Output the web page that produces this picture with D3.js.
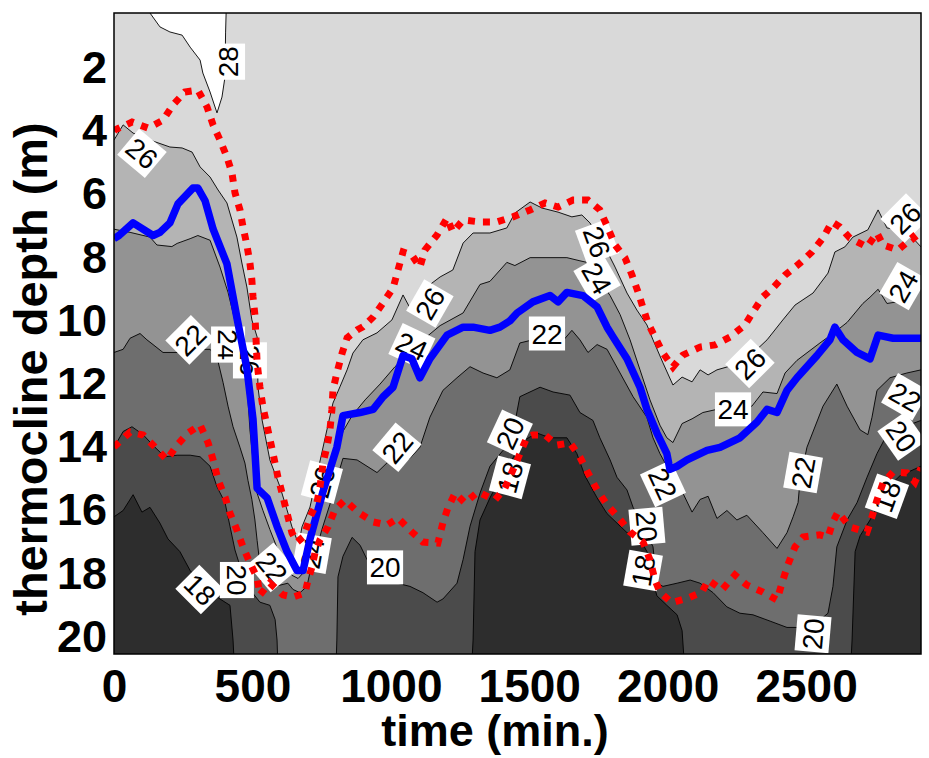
<!DOCTYPE html>
<html>
<head>
<meta charset="utf-8">
<script src="https://cdn.jsdelivr.net/npm/d3@7"></script>
<style>
  body { margin: 0; background: #fff; }
  text { font-family: "Liberation Sans", Arial, sans-serif; }
</style>
</head>
<body>
<svg id="chart" width="929" height="758"></svg>
<script>
// isotherm depths [time (min), depth (m)]
// values > 20.5 or < 0.26 mean the isotherm is outside the plotted depth range
const iso18 = [[0,16.2],[33,16.0],[69,15.5],[101,16.05],[130,15.9],[166,16.4],[195,16.9],[238,17.3],[275,17.9],[329,18.45],[383,18.8],[419,19.0],[430,20.1],[441,22],
  [1286,22],[1297,20.1],[1304,17.3],[1322,16.3],[1358,15.6],[1394,15.0],[1430,14.5],[1477,13.8],[1528,13.55],[1575,13.7],[1636,13.7],[1672,14.2],[1701,14.9],[1745,15.6],[1781,16.1],[1817,16.4],[1853,16.7],[1900,16.9],[1925,17.3],[1943,18.1],[1961,18.7],[1997,19.0],[2034,19.3],[2052,19.8],[2059,20.7],[2070,22],
  [2655,22],[2666,20.1],[2677,17.3],[2695,16.8],[2731,16.3],[2756,15.9],[2792,15.3],[2839,14.9],[2915,14.6]];

const iso20 = [[0,14.0],[33,13.5],[65,13.35],[105,13.6],[148,14.0],[184,14.3],[228,14.25],[275,14.25],[311,14.3],[347,14.6],[372,15.25],[401,15.75],[419,16.5],[437,17.25],[462,17.95],[491,18.5],[527,18.9],[563,19.0],[582,19.45],[589,20.1],[596,22],
  [798,22],[805,20.1],[809,18.1],[827,17.45],[860,16.85],[889,17.1],[914,17.55],[950,18.0],[1022,18.3],[1069,18.4],[1116,18.6],[1167,18.9],[1188,18.8],[1239,18.3],[1261,17.55],[1286,16.5],[1322,15.45],[1358,14.6],[1405,14.1],[1441,13.55],[1466,12.4],[1539,12.1],[1586,12.25],[1647,12.35],[1683,12.9],[1730,13.15],[1755,13.7],[1792,14.4],[1817,14.95],[1853,15.35],[1875,15.9],[1918,16.6],[1947,17.15],[1961,18.3],[1983,18.4],[2034,18.3],[2081,18.2],[2117,18.3],[2164,18.6],[2214,19.05],[2261,19.25],[2308,19.3],[2370,19.5],[2431,19.7],[2478,19.7],[2532,19.6],[2579,19.25],[2597,18.4],[2611,17.15],[2648,16.3],[2684,15.75],[2720,14.95],[2756,14.2],[2792,13.6],[2839,13.4],[2915,13.15]];

const iso22 = [[0,11.0],[33,10.9],[58,10.55],[94,10.4],[119,10.6],[141,10.75],[177,11.0],[228,11.0],[264,11.0],[311,10.9],[347,10.9],[372,11.15],[394,11.95],[412,12.7],[430,13.35],[455,14.0],[473,14.5],[484,15.05],[498,15.65],[509,16.3],[517,16.95],[527,17.7],[545,18.35],[582,18.4],[628,18.3],[647,18.5],[672,18.6],[697,18.4],[708,17.95],[726,17.4],[751,16.6],[780,15.8],[805,15.0],[827,14.35],[878,14.4],[950,14.8],[997,14.4],[1069,14.35],[1105,14.0],[1141,13.05],[1188,12.2],[1239,11.8],[1286,11.45],[1333,11.65],[1383,11.8],[1430,11.55],[1466,10.7],[1513,10.6],[1600,10.85],[1654,10.3],[1683,10.6],[1712,11.0],[1745,10.75],[1781,10.9],[1828,11.65],[1875,12.4],[1925,13.05],[1947,13.7],[1972,14.2],[1997,14.6],[2044,15.25],[2088,16.05],[2117,15.65],[2146,15.55],[2178,16.25],[2214,16.0],[2250,16.3],[2286,16.15],[2344,16.7],[2395,17.2],[2431,16.7],[2453,16.2],[2471,15.75],[2478,15.05],[2503,14.0],[2561,12.7],[2611,12.0],[2648,12.7],[2695,13.45],[2723,13.6],[2738,13.05],[2756,12.2],[2803,11.8],[2864,11.65],[2915,11.55]];

const iso24 = [[0,7.1],[58,7.2],[130,7.35],[155,7.6],[209,7.65],[228,7.55],[275,7.4],[303,7.3],[347,7.45],[383,8.3],[412,9.1],[437,10.0],[455,10.75],[473,11.55],[484,12.5],[491,13.45],[502,14.4],[513,15.35],[538,16.0],[563,16.6],[592,17.25],[618,17.75],[643,18.05],[665,18.15],[686,17.95],[708,17.2],[737,16.15],[769,15.2],[798,14.35],[827,13.5],[860,13.0],[907,12.5],[961,12.0],[1015,11.45],[1069,11.0],[1123,10.55],[1178,10.15],[1261,9.75],[1322,8.85],[1358,8.75],[1419,8.15],[1448,8.25],[1503,8.0],[1575,8.0],[1636,8.0],[1683,8.1],[1708,8.15],[1745,8.6],[1792,9.2],[1828,9.8],[1864,10.6],[1900,11.55],[1936,12.5],[1972,13.3],[1997,13.7],[2019,13.85],[2052,13.25],[2088,13.1],[2127,12.9],[2178,12.8],[2236,12.7],[2304,12.7],[2344,12.25],[2395,12.3],[2424,11.65],[2467,11.25],[2550,10.7],[2597,10.4],[2648,10.05],[2705,9.45],[2731,9.25],[2760,9.0],[2792,9.45],[2828,9.4],[2915,8.8]];

const iso26 = [[0,4.28],[33,3.8],[69,4.06],[130,4.28],[202,4.5],[246,4.53],[282,4.66],[311,5.13],[347,5.45],[376,5.86],[408,6.27],[426,6.81],[444,7.35],[462,8.17],[480,8.93],[498,9.97],[517,10.51],[520,12.09],[535,13.14],[563,14.4],[600,15.26],[625,15.98],[643,16.52],[661,16.93],[668,17.03],[679,16.52],[708,15.89],[737,14.72],[769,13.45],[791,12.6],[816,12.09],[842,11.55],[863,11.02],[899,10.6],[950,10.38],[1004,9.97],[1044,9.18],[1069,9.59],[1116,9.02],[1178,8.61],[1224,8.39],[1261,7.54],[1297,7.22],[1358,7.22],[1419,7.06],[1448,6.59],[1503,6.24],[1546,6.43],[1604,6.56],[1654,6.71],[1690,6.65],[1719,6.9],[1766,7.54],[1810,8.3],[1853,9.12],[1889,9.66],[1925,10.13],[1947,10.6],[1983,11.33],[2019,12.03],[2052,11.78],[2088,11.93],[2117,11.55],[2146,11.71],[2178,11.55],[2214,11.46],[2261,11.3],[2308,11.02],[2359,10.6],[2416,9.97],[2460,9.5],[2525,9.12],[2579,8.49],[2604,7.82],[2640,7.66],[2669,7.35],[2723,7.12],[2760,6.49],[2792,7.06],[2832,7.12],[2875,7.28],[2915,7.66]];

const iso28 = [[0,-0.5],[128,-0.5],[130,0.26],[166,0.7],[202,0.86],[246,0.96],[275,1.34],[311,1.75],[321,2.16],[347,2.76],[372,3.42],[390,2.92],[401,2.28],[403,0.89],[405,0.26],[407,-0.5],[2915,-0.5]];

const isoLevels = [18, 20, 22, 24, 26, 28];
const isotherms = [iso18, iso20, iso22, iso24, iso26, iso28];

// thermocline depth (blue) and its upper / lower bounds (red dotted)
const thermocline = [[0,7.4],[18,7.3],[69,6.9],[141,7.3],[166,7.2],[202,6.9],[231,6.3],[285,5.8],[303,5.8],[329,6.2],[358,7.1],[408,8.2],[444,9.9],[480,11.5],[502,13.1],[517,15.3],[553,15.6],[589,16.5],[625,17.3],[661,17.9],[683,17.9],[708,16.9],[755,15.4],[805,14.0],[827,13.0],[889,12.9],[936,12.8],[972,12.4],[1008,12.1],[1044,11.1],[1076,11.2],[1105,11.8],[1141,11.2],[1203,10.45],[1261,10.2],[1297,10.2],[1358,10.3],[1394,10.2],[1430,10.0],[1456,9.75],[1513,9.4],[1575,9.2],[1604,9.4],[1636,9.1],[1694,9.2],[1745,9.56],[1781,10.2],[1802,10.5],[1853,11.2],[1900,12.1],[1925,12.8],[1961,13.55],[1997,14.2],[2008,14.7],[2034,14.6],[2070,14.4],[2142,14.1],[2189,14.0],[2261,13.7],[2323,13.2],[2359,12.8],[2395,12.9],[2431,12.2],[2467,11.8],[2539,11.1],[2586,10.6],[2604,10.2],[2633,10.6],[2684,11.0],[2731,11.2],[2760,10.45],[2814,10.55],[2915,10.55]];

const upperBound = [[0,4.0],[4,3.96],[65,3.71],[123,3.9],[177,3.65],[213,3.17],[256,2.76],[303,2.7],[336,3.23],[358,3.8],[383,4.28],[408,4.82],[426,5.32],[437,5.95],[455,6.49],[466,7.03],[480,7.6],[491,8.17],[498,8.71],[502,9.24],[509,9.81],[517,11.33],[527,12.09],[538,12.72],[556,13.45],[574,14.18],[592,14.94],[607,15.45],[625,16.08],[643,16.71],[661,17.0],[683,16.84],[697,16.52],[708,16.2],[733,15.76],[744,15.26],[755,14.5],[769,13.99],[780,13.45],[787,12.82],[791,12.19],[805,11.65],[824,11.02],[842,10.54],[878,10.29],[899,10.19],[936,9.88],[972,9.43],[1008,8.96],[1026,8.39],[1044,7.82],[1076,7.92],[1105,8.3],[1123,7.76],[1167,7.28],[1203,6.75],[1224,7.19],[1261,6.81],[1322,6.87],[1383,6.87],[1441,6.71],[1503,6.49],[1557,6.27],[1604,6.4],[1658,6.18],[1712,6.18],[1755,6.49],[1784,7.06],[1810,7.6],[1846,8.01],[1871,8.55],[1893,9.09],[1911,9.59],[1929,10.07],[1983,11.02],[2019,11.46],[2055,11.08],[2117,10.83],[2171,10.76],[2225,10.51],[2279,10.13],[2308,9.72],[2344,9.24],[2380,8.96],[2424,8.55],[2478,8.17],[2521,7.82],[2561,7.38],[2593,6.87],[2622,7.03],[2658,7.38],[2720,7.66],[2756,7.22],[2778,7.6],[2832,7.76],[2886,7.35],[2915,7.66]];

const lowerBound = [[0,13.99],[58,13.52],[105,13.61],[148,13.99],[191,14.4],[228,13.93],[267,13.55],[311,13.29],[340,13.86],[358,14.4],[376,15.03],[401,15.57],[419,16.08],[444,16.62],[466,17.15],[491,17.66],[517,18.13],[527,18.67],[563,18.29],[610,18.67],[647,18.74],[690,18.61],[701,18.2],[715,17.79],[726,17.34],[744,16.93],[773,16.52],[798,15.98],[834,15.67],[881,16.05],[936,16.36],[986,16.46],[1026,16.24],[1076,16.68],[1116,17.0],[1170,17.03],[1188,16.39],[1206,15.92],[1232,15.45],[1268,15.76],[1315,15.41],[1376,15.67],[1412,15.29],[1441,14.72],[1492,13.67],[1513,13.61],[1557,13.61],[1600,13.93],[1647,13.86],[1683,14.31],[1712,14.81],[1745,15.35],[1781,15.82],[1820,16.2],[1864,16.68],[1911,17.0],[1936,17.56],[1954,18.2],[1972,18.58],[2015,18.92],[2073,18.77],[2124,18.58],[2146,18.2],[2196,18.51],[2243,18.04],[2286,18.36],[2344,18.58],[2395,18.83],[2413,18.29],[2434,17.72],[2460,17.15],[2489,16.84],[2550,16.77],[2579,16.84],[2597,16.36],[2615,16.05],[2658,16.52],[2720,16.68],[2738,16.2],[2756,15.67],[2778,15.13],[2814,14.78],[2864,14.81],[2893,15.1],[2915,14.65]];

// contour labels (clabel): value, time, depth, text angle
const contourLabels = [
  {text:'28', t:412, d:1.8, angle:-90},
  {text:'26', t:101, d:4.7, angle:40},
  {text:'22', t:275, d:10.6, angle:-45},
  {text:'24', t:412, d:10.75, angle:90},
  {text:'26', t:491, d:11.25, angle:90},
  {text:'18', t:311, d:18.5, angle:45},
  {text:'20', t:444, d:18.2, angle:90},
  {text:'22', t:571, d:17.8, angle:50},
  {text:'26', t:751, d:15.1, angle:-75},
  {text:'24', t:715, d:17.35, angle:-80},
  {text:'26', t:1141, d:9.45, angle:-60},
  {text:'24', t:1076, d:10.8, angle:25},
  {text:'22', t:1022, d:14.0, angle:-50},
  {text:'20', t:979, d:17.8, angle:0},
  {text:'20', t:1430, d:13.55, angle:-65},
  {text:'18', t:1430, d:14.95, angle:-75},
  {text:'22', t:1564, d:10.4, angle:0},
  {text:'26', t:1745, d:7.5, angle:70},
  {text:'24', t:1745, d:8.65, angle:60},
  {text:'22', t:1983, d:15.15, angle:65},
  {text:'20', t:1925, d:16.5, angle:85},
  {text:'18', t:1911, d:17.9, angle:-80},
  {text:'24', t:2236, d:12.8, angle:0},
  {text:'26', t:2297, d:11.35, angle:-45},
  {text:'22', t:2489, d:14.8, angle:-80},
  {text:'20', t:2525, d:19.9, angle:-85},
  {text:'26', t:2858, d:6.75, angle:-45},
  {text:'24', t:2850, d:8.9, angle:-60},
  {text:'22', t:2858, d:12.4, angle:30},
  {text:'20', t:2845, d:13.65, angle:55},
  {text:'18', t:2792, d:15.55, angle:-70}
];

const xTicks = [0, 500, 1000, 1500, 2000, 2500];
const yTicks = [2, 4, 6, 8, 10, 12, 14, 16, 18, 20];

// ---- layout ----
const width = 929, height = 758;
const margin = {top: 13, right: 8, bottom: 104, left: 114};
const svg = d3.select('#chart');

const x = d3.scaleLinear().domain([0, 2915]).range([margin.left, width - margin.right]);
const y = d3.scaleLinear().domain([0.26, 20.54]).range([margin.top, height - margin.bottom]);

// gray band colours: below 18, 18-20, ..., above 28
const bandColors = ['#2d2d2d', '#4b4b4b', '#6e6e6e', '#939393', '#b4b4b4', '#d9d9d9', '#ffffff'];

svg.append('defs').append('clipPath').attr('id', 'plot-clip')
  .append('rect')
  .attr('x', x(0)).attr('y', y(0.26))
  .attr('width', x(2915) - x(0)).attr('height', y(20.54) - y(0.26));

const plot = svg.append('g').attr('clip-path', 'url(#plot-clip)');

// coldest water fills everything, then each warmer band is painted from the surface down to its isotherm
plot.append('rect')
  .attr('x', x(0)).attr('y', y(0.26))
  .attr('width', x(2915) - x(0)).attr('height', y(20.54) - y(0.26))
  .attr('fill', bandColors[0]);

const bandArea = d3.area()
  .x(d => x(d[0]))
  .y0(y(-2))
  .y1(d => y(d[1]));

plot.selectAll('.band')
  .data(isotherms)
  .join('path')
  .attr('class', 'band')
  .attr('d', bandArea)
  .attr('fill', (d, i) => bandColors[i + 1]);

const lineGen = d3.line().x(d => x(d[0])).y(d => y(d[1]));

plot.selectAll('.isoline')
  .data(isotherms)
  .join('path')
  .attr('class', 'isoline')
  .attr('d', lineGen)
  .attr('fill', 'none')
  .attr('stroke', '#000')
  .attr('stroke-width', 0.9);

// contour labels in white boxes
const lab = plot.selectAll('.clabel')
  .data(contourLabels)
  .join('g')
  .attr('class', 'clabel')
  .attr('transform', d => `translate(${x(d.t)},${y(d.d)}) rotate(${d.angle})`);

lab.append('rect').attr('fill', '#fff');
lab.append('text')
  .attr('text-anchor', 'middle')
  .attr('dy', '0.36em')
  .style('font-size', '28px')
  .text(d => d.text);
lab.each(function() {
  const g = d3.select(this);
  const w = g.select('text').node().getComputedTextLength() + 5;
  g.select('rect').attr('x', -w / 2).attr('y', -17).attr('width', w).attr('height', 34);
});

// thermocline (blue) then the dotted bounds (red)
plot.append('path')
  .datum(thermocline)
  .attr('d', lineGen)
  .attr('fill', 'none')
  .attr('stroke', '#0000ff')
  .attr('stroke-width', 7.5)
  .attr('stroke-linejoin', 'round');

plot.selectAll('.bound')
  .data([upperBound, lowerBound])
  .join('path')
  .attr('class', 'bound')
  .attr('d', lineGen)
  .attr('fill', 'none')
  .attr('stroke', '#ff0000')
  .attr('stroke-width', 7)
  .attr('stroke-dasharray', '7,8')
  .attr('stroke-linecap', 'butt');

// frame
svg.append('rect')
  .attr('x', x(0)).attr('y', y(0.26))
  .attr('width', x(2915) - x(0)).attr('height', y(20.54) - y(0.26))
  .attr('fill', 'none')
  .attr('stroke', '#000')
  .attr('stroke-width', 1.5);

// axes
const yAxis = d3.axisLeft(y).tickValues(yTicks).tickSize(0).tickPadding(7);
const yAxisDraw = svg.append('g').attr('transform', `translate(${margin.left},0)`).call(yAxis);
yAxisDraw.select('.domain').remove();
yAxisDraw.selectAll('text')
  .style('font-family', '"Liberation Sans", Arial, sans-serif')
  .style('font-size', '45px').style('font-weight', 'bold').attr('fill', '#000');

const xAxis = d3.axisBottom(x).tickValues(xTicks).tickFormat(d3.format('d')).tickSize(0).tickPadding(15);
const xAxisDraw = svg.append('g').attr('transform', `translate(0,${height - margin.bottom})`).call(xAxis);
xAxisDraw.select('.domain').remove();
xAxisDraw.selectAll('text')
  .style('font-family', '"Liberation Sans", Arial, sans-serif')
  .style('font-size', '46px').style('font-weight', 'bold').attr('fill', '#000');

// axis titles
svg.append('text')
  .attr('transform', 'translate(47,369) rotate(-90)')
  .attr('text-anchor', 'middle')
  .style('font-size', '47px').style('font-weight', 'bold')
  .text('thermocline depth (m)');

svg.append('text')
  .attr('x', 495).attr('y', 746)
  .attr('text-anchor', 'middle')
  .style('font-size', '45px').style('font-weight', 'bold')
  .text('time (min.)');
</script>
</body>
</html>
